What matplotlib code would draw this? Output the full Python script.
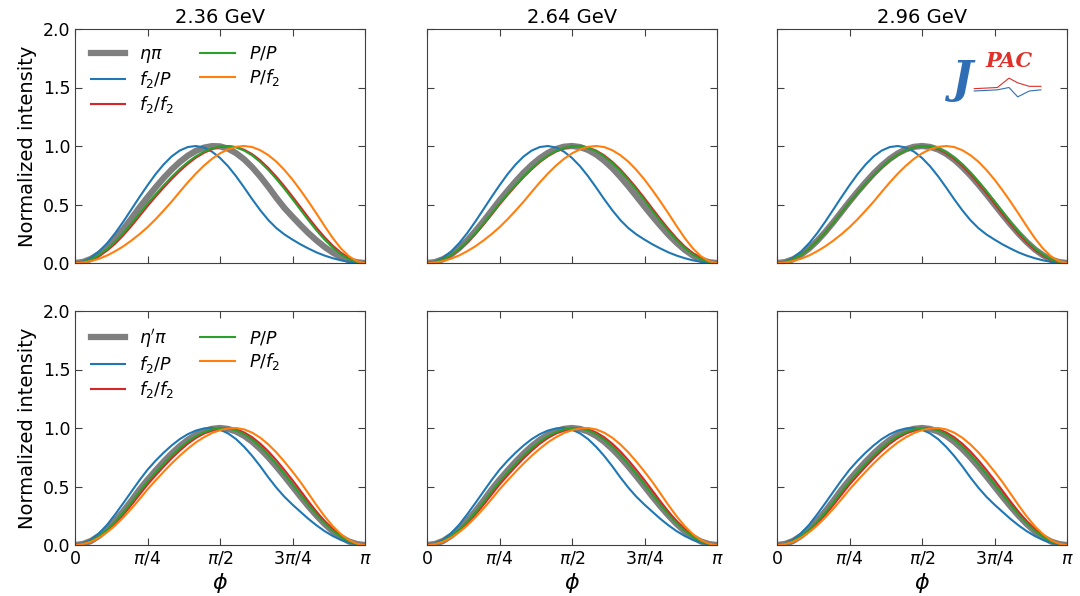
import numpy as np
import matplotlib
matplotlib.use("Agg")
import matplotlib.pyplot as plt

# angle grid in degrees
phi_deg = list(range(0, 181, 5))

energies = ["2.36 GeV", "2.64 GeV", "2.96 GeV"]

# ---- top row (eta pi) ----
# f2/P and P/f2 look the same in all three energies
blue_top = [0, .011, .045, .099, .170, .256, .354, .458, .563, .664, .759, .842, .911, .961, .991, 1.0,
            .987, .952, .898, .827, .741, .645, .545, .451, .367, .298, .244, .200, .159, .123, .090, .063,
            .041, .023, .010, .003, 0]
orange_top = [0, .004, .017, .037, .065, .101, .143, .192, .246, .306, .374, .448, .525, .608, .689, .764,
              .832, .890, .937, .972, .993, 1.0, .991, .964, .922, .866, .795, .713, .621, .523, .420, .314,
              .213, .125, .058, .015, 0]

gray_top1 = [0, .009, .036, .079, .137, .209, .290, .380, .474, .562, .646, .726, .799, .863, .917, .958,
             .986, .999, .997, .977, .939, .886, .818, .739, .651, .557, .470, .395, .323, .254, .192, .136,
             .089, .050, .023, .006, 0]
green_top1 = [0, .008, .031, .069, .119, .182, .255, .336, .421, .508, .587, .663, .736, .803, .862, .912,
              .951, .980, .996, 1.0, .988, .961, .919, .863, .795, .718, .634, .545, .454, .363, .277, .199,
              .131, .075, .034, .009, 0]
red_top1 = [0, .006, .025, .060, .107, .166, .237, .316, .400, .486, .567, .644, .718, .786, .847, .900,
            .941, .973, .992, .999, .991, .968, .930, .877, .812, .737, .655, .567, .477, .386, .299, .219,
            .148, .089, .044, .015, 0]

gray_top2 = [0, .008, .033, .073, .128, .194, .272, .356, .445, .534, .617, .697, .772, .838, .895, .941,
             .974, .994, 1.0, .991, .966, .927, .875, .811, .737, .656, .570, .483, .398, .317, .240, .172,
             .112, .064, .029, .007, 0]
green_top2 = [0, .008, .031, .069, .120, .183, .255, .335, .421, .508, .589, .667, .741, .808, .868, .917,
              .956, .983, .998, .999, .984, .955, .911, .854, .785, .708, .624, .536, .445, .356, .272, .194,
              .128, .073, .033, .008, 0]
red_top2 = [0, .007, .029, .065, .115, .177, .248, .327, .412, .499, .581, .659, .734, .801, .862, .912,
            .952, .980, .997, .999, .987, .961, .920, .865, .799, .723, .641, .554, .463, .374, .289, .210,
            .141, .084, .041, .013, 0]

gray_top3 = [0, .008, .032, .072, .125, .190, .266, .349, .437, .525, .609, .689, .765, .832, .890, .937,
             .972, .993, 1.0, .992, .970, .933, .883, .821, .750, .671, .587, .500, .413, .329, .250, .179,
             .117, .067, .030, .008, 0]
green_top3 = [0, .008, .032, .070, .122, .187, .260, .342, .429, .516, .598, .676, .750, .817, .879, .925,
              .962, .987, .999, .997, .980, .948, .902, .844, .775, .697, .614, .527, .437, .349, .266, .190,
              .125, .072, .032, .008, 0]
red_top3 = [0, .008, .032, .070, .122, .187, .260, .342, .429, .516, .598, .676, .750, .817, .879, .925,
            .962, .987, .999, .994, .974, .939, .890, .830, .759, .680, .597, .509, .419, .332, .251, .177,
            .114, .064, .027, .006, 0]

# ---- bottom row (eta' pi), nearly identical in the three panels ----
blue_bot = [0, .012, .046, .101, .174, .263, .358, .456, .553, .643, .720, .789, .851, .905, .947, .978,
            .996, 1.0, .986, .954, .905, .839, .761, .673, .578, .490, .412, .345, .283, .222, .167, .118,
            .077, .044, .020, .005, 0]
gray_bot = [0, .009, .035, .079, .137, .208, .289, .378, .472, .557, .636, .712, .782, .845, .899, .942,
            .974, .993, 1.0, .992, .970, .933, .883, .821, .750, .671, .587, .500, .413, .329, .250, .179,
            .117, .067, .030, .008, 0]
green_bot = [0, .009, .034, .075, .131, .199, .277, .363, .454, .540, .618, .693, .764, .827, .883, .929,
             .964, .988, .999, .997, .980, .947, .900, .841, .770, .691, .606, .518, .429, .342, .260, .187,
             .122, .070, .032, .008, 0]
red_bot = [0, .008, .032, .070, .122, .187, .260, .342, .429, .516, .594, .669, .741, .806, .865, .914,
           .952, .980, .996, 1.0, .989, .962, .921, .866, .800, .724, .641, .554, .463, .371, .283, .203,
           .134, .077, .035, .009, 0]
orange_bot = [0, .007, .028, .063, .110, .168, .236, .311, .391, .475, .552, .626, .697, .763, .823, .877,
              .921, .957, .982, .996, 1.0, .988, .960, .917, .860, .791, .712, .627, .537, .438, .338, .244,
              .161, .093, .042, .011, 0]

xtick_labels = ["0", r"$\pi/4$", r"$\pi/2$", r"$3\pi/4$", r"$\pi$"]

C_GRAY = "#7f7f7f"
C_BLUE = "#1f77b4"
C_RED = "#d62728"
C_GREEN = "#2ca02c"
C_ORANGE = "#ff7f0e"

plt.rcParams["axes.edgecolor"] = "0.25"
plt.rcParams["xtick.color"] = "0.25"
plt.rcParams["ytick.color"] = "0.25"
plt.rcParams["xtick.labelcolor"] = "black"
plt.rcParams["ytick.labelcolor"] = "black"

phi = np.deg2rad(phi_deg)

fig = plt.figure(figsize=(10.8, 5.96), dpi=100)
lefts = [75, 427, 777]
bottoms = [263, 545]
axes = []
for r in range(2):
    row = []
    for c in range(3):
        ax = fig.add_axes([lefts[c] / 1080, (596 - bottoms[r]) / 596, 290 / 1080, 234 / 596])
        row.append(ax)
    axes.append(row)


def draw_set(ax, gray, blue, red, green, orange, gray_label):
    ax.plot(phi, gray, color=C_GRAY, lw=4.5, label=gray_label)
    ax.plot(phi, blue, color=C_BLUE, lw=1.5, label=r"$f_2/P$")
    ax.plot(phi, red, color=C_RED, lw=1.5, label=r"$f_2/f_2$")
    ax.plot(phi, green, color=C_GREEN, lw=1.5, label=r"$P/P$")
    ax.plot(phi, orange, color=C_ORANGE, lw=1.5, label=r"$P/f_2$")


top_gray = [gray_top1, gray_top2, gray_top3]
top_green = [green_top1, green_top2, green_top3]
top_red = [red_top1, red_top2, red_top3]
for c in range(3):
    draw_set(axes[0][c], top_gray[c], blue_top, top_red[c], top_green[c], orange_top, r"$\eta\pi$")
    draw_set(axes[1][c], gray_bot, blue_bot, red_bot, green_bot, orange_bot, r"$\eta'\pi$")
    axes[0][c].set_title(energies[c], fontsize=14, pad=4)

for r in range(2):
    for c in range(3):
        ax = axes[r][c]
        ax.set_xlim(0, np.pi)
        ax.set_ylim(0, 2)
        ax.set_xticks(np.pi * np.array([0, 0.25, 0.5, 0.75, 1.0]))
        ax.set_yticks([0, 0.5, 1.0, 1.5, 2.0])
        ax.tick_params(direction="in", top=True, right=True, length=5, labelsize=12.5)
        if r == 0:
            ax.set_xticklabels([])
        else:
            ax.set_xticklabels(xtick_labels)
            ax.set_xlabel(r"$\phi$", fontsize=16, labelpad=2)
        if c == 0:
            ax.set_ylabel("Normalized intensity", fontsize=14)
        else:
            ax.set_yticklabels([])
    axes[r][0].legend(loc="upper left", ncol=2, frameon=False, fontsize=12.5,
                      handlelength=2.0, handletextpad=0.8, columnspacing=1.5,
                      labelspacing=0.25, borderaxespad=0.5)

# JPAC logo (decoration)
ax3 = axes[0][2]
ax3.text(0.64, 0.78, "J", transform=ax3.transAxes, fontsize=32, color="#2f6eb5",
         family="DejaVu Serif", style="italic", fontweight="bold", ha="center", va="center")
ax3.text(0.80, 0.865, "PAC", transform=ax3.transAxes, fontsize=15, color="#e0302a",
         family="DejaVu Serif", style="italic", fontweight="bold", ha="center", va="center")
ax3.plot([0.68, 0.76, 0.80, 0.83, 0.87, 0.91], [0.745, 0.75, 0.79, 0.77, 0.755, 0.755],
         transform=ax3.transAxes, color="#e0302a", lw=0.8)
ax3.plot([0.68, 0.76, 0.80, 0.83, 0.87, 0.91], [0.735, 0.74, 0.75, 0.71, 0.735, 0.74],
         transform=ax3.transAxes, color="#2f6eb5", lw=0.8)

fig.savefig("out.png", dpi=100)
